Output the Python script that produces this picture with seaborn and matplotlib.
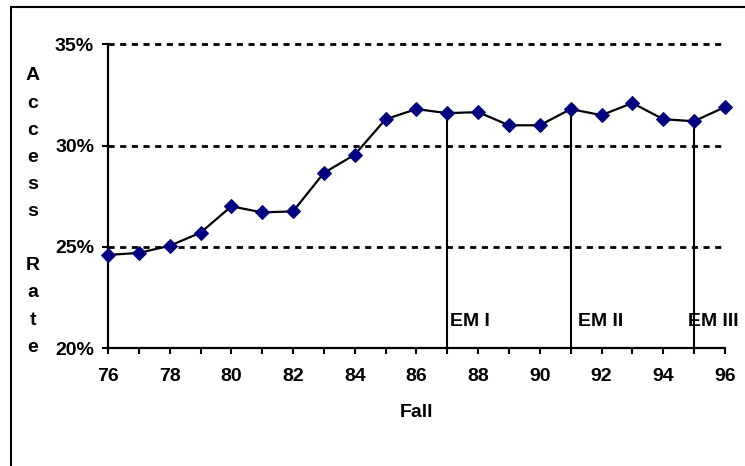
import numpy as np
import pandas as pd
import matplotlib.pyplot as plt
import matplotlib.patches as mpatches
import seaborn as sns

# data
years = list(range(76, 97))
rates = [24.6, 24.7, 25.05, 25.7, 27.0, 26.7, 26.75, 28.65, 29.55, 31.3,
         31.8, 31.6, 31.65, 31.0, 31.0, 31.8, 31.5, 32.1, 31.3, 31.2, 31.9]
em_years = [87, 91, 95]
em_labels = ['EM I', 'EM II', 'EM III']
y_ticks = [20, 25, 30, 35]

df = pd.DataFrame({'Fall': years, 'Rate': rates})

sns.set_style('ticks')
plt.rcParams['font.family'] = ['Liberation Sans', 'DejaVu Sans']
plt.rcParams['font.weight'] = 'bold'
plt.rcParams['text.color'] = 'black'
plt.rcParams['axes.labelcolor'] = 'black'

fig = plt.figure(figsize=(7.45, 4.66), dpi=100)
ax = fig.add_axes([0.145, 0.253, 0.828, 0.652])

# dotted horizontal gridlines
for yv in y_ticks[1:]:
    ax.axhline(yv, color='black', lw=2, ls=(0, (2.2, 2.0)), zorder=1,
               clip_on=False)

# EM marker lines up to the data line
for yr, lab, off in zip(em_years, em_labels, [0.1, 0.25, -0.2]):
    top = df.loc[df.Fall == yr, 'Rate'].iloc[0]
    ax.vlines(yr, 20, top, color='black', lw=1.5, zorder=2)
    ax.text(yr + off, 21.33, lab, fontsize=14, fontweight='bold',
            color='black', ha='left', va='center')

sns.lineplot(data=df, x='Fall', y='Rate', ax=ax, color='black', lw=1.6,
             marker='D', markersize=7, markerfacecolor='#000080',
             markeredgecolor='#000080', clip_on=False, zorder=3)

ax.set_xlim(76, 96)
ax.set_ylim(20, 35)
ax.set_xticks(years)
ax.set_xticklabels([str(y) if y % 2 == 0 else '' for y in years])
ax.set_yticks(y_ticks)
ax.set_yticklabels([f'{v}%' for v in y_ticks])
ax.tick_params(axis='both', length=4, width=1.5, color='black',
               labelsize=14, labelcolor='black')
ax.tick_params(axis='x', pad=10)
ax.tick_params(axis='y', pad=6)
for lab in ax.get_xticklabels() + ax.get_yticklabels():
    lab.set_fontweight('bold')

ax.set_xlabel('Fall', fontsize=14, fontweight='bold', labelpad=14,
              color='black')
ax.set_ylabel('')
sns.despine(ax=ax)
ax.spines['left'].set_linewidth(1.6)
ax.spines['bottom'].set_linewidth(1.6)
ax.spines['left'].set_color('black')
ax.spines['bottom'].set_color('black')

# stacked vertical axis title
fig.text(0.044, 0.546, '\n'.join(list('Access') + [''] + list('Rate')),
         fontsize=14, fontweight='bold', color='black', ha='center',
         va='center', linespacing=1.78)

# outer frame, cut at the right and bottom edges
fig.add_artist(mpatches.Rectangle((0.015, -0.2), 1.5, 1.185, fill=False,
                                  lw=1.5, edgecolor='black',
                                  transform=fig.transFigure))

fig.savefig('out.png', dpi=100)
